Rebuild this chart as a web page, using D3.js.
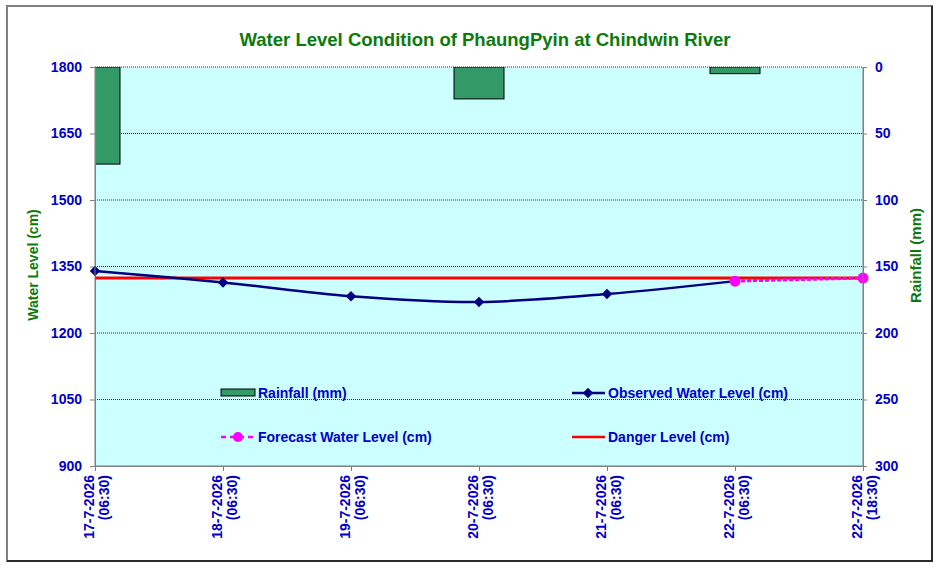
<!DOCTYPE html>
<html>
<head>
<meta charset="utf-8">
<script src="https://cdn.jsdelivr.net/npm/d3@7"></script>
<style>
  body { margin: 0; background: #fff; }
  text { font-family: "Liberation Sans", Arial, sans-serif; font-weight: bold; }
</style>
</head>
<body>
<svg id="chart" width="940" height="568"></svg>
<script>
const svg = d3.select("#chart");

// chart data
const dates = ["17-7-2026", "18-7-2026", "19-7-2026", "20-7-2026", "21-7-2026", "22-7-2026", "22-7-2026"];
const times = ["(06:30)", "(06:30)", "(06:30)", "(06:30)", "(06:30)", "(06:30)", "(18:30)"];
const rainfall = [73, 0, 0, 24, 0, 5, 0];
const observed = [1340, 1314, 1283, 1270, 1288, 1317, null];
const forecast = [null, null, null, null, null, 1317, 1324];
const danger = [1324, 1324, 1324, 1324, 1324, 1324, 1324];
const levelTicks = [900, 1050, 1200, 1350, 1500, 1650, 1800];
const rainTicks = [0, 50, 100, 150, 200, 250, 300];

const plot = { left: 95, right: 863, top: 67, bottom: 466 };
const blue = "#0000cc";
const green = "#0b7a0b";

const idx = d3.range(dates.length);
const x = d3.scalePoint().domain(idx).range([plot.left, plot.right]);
const yL = d3.scaleLinear().domain([900, 1800]).range([plot.bottom, plot.top]);
const yR = d3.scaleLinear().domain([0, 300]).range([plot.top, plot.bottom]);

// outer frame
svg.append("rect")
    .attr("x", 7).attr("y", 6).attr("width", 925).attr("height", 555)
    .attr("fill", "#fff").attr("stroke", "#808080").attr("stroke-width", 2);
svg.append("path")
    .attr("d", "M932,6V561H7")
    .attr("fill", "none").attr("stroke", "#111").attr("stroke-width", 1.5);

// plot background
svg.append("rect")
    .attr("x", plot.left).attr("y", plot.top)
    .attr("width", plot.right - plot.left).attr("height", plot.bottom - plot.top)
    .attr("fill", "#ccffff");

// dotted grid lines
svg.append("g")
    .selectAll("line")
    .data(levelTicks.filter(d => d > 900))
    .enter().append("line")
    .attr("x1", plot.left).attr("x2", plot.right)
    .attr("y1", d => yL(d)).attr("y2", d => yL(d))
    .attr("stroke", "#000").attr("stroke-width", 0.8)
    .attr("stroke-dasharray", "1,1");

// clip for the bars
svg.append("clipPath").attr("id", "clip")
    .append("rect")
    .attr("x", plot.left).attr("y", plot.top)
    .attr("width", plot.right - plot.left).attr("height", plot.bottom - plot.top);

const barW = 50;
svg.append("g").attr("clip-path", "url(#clip)")
    .selectAll("rect")
    .data(idx.filter(i => rainfall[i] > 0))
    .enter().append("rect")
    .attr("x", i => x(i) - barW / 2)
    .attr("y", yR(0))
    .attr("width", barW)
    .attr("height", i => yR(rainfall[i]) - yR(0))
    .attr("fill", "#339966").attr("stroke", "#000").attr("stroke-width", 1);

// axes
const styleAxis = g => {
    g.select(".domain").attr("stroke", "#808080");
    g.selectAll(".tick line").attr("stroke", "#808080");
    g.selectAll(".tick text").attr("fill", blue).attr("font-size", 14)
        .attr("font-family", "Liberation Sans, Arial, sans-serif").attr("font-weight", "bold");
};

svg.append("g")
    .attr("transform", `translate(${plot.left},0)`)
    .call(d3.axisLeft(yL).tickValues(levelTicks).tickFormat(d3.format("d"))
        .tickSize(5).tickPadding(8).tickSizeOuter(0))
    .call(styleAxis);

svg.append("g")
    .attr("transform", `translate(${plot.right},0)`)
    .call(d3.axisRight(yR).tickValues(rainTicks).tickFormat(d3.format("d"))
        .tickSize(4).tickPadding(8).tickSizeOuter(0))
    .call(styleAxis);

const xAxis = svg.append("g")
    .attr("transform", `translate(0,${plot.bottom})`)
    .call(d3.axisBottom(x).tickSize(5).tickSizeOuter(0).tickFormat(""))
    .call(styleAxis);

xAxis.selectAll(".tick").each(function(i) {
    const t = d3.select(this).append("text")
        .attr("transform", "rotate(-90)")
        .attr("text-anchor", "end")
        .attr("fill", blue).attr("font-size", 14);
    t.append("tspan").attr("x", -9).attr("y", -2).text(dates[i]);
    t.append("tspan").attr("x", -9).attr("y", 13).text(times[i]);
});

// danger level
const line = d3.line()
    .defined(d => d[1] != null)
    .x(d => x(d[0]))
    .y(d => yL(d[1]));

svg.append("path")
    .datum(idx.map(i => [i, danger[i]]))
    .attr("d", line)
    .attr("fill", "none").attr("stroke", "#ff0000").attr("stroke-width", 3);

// observed water level
svg.append("path")
    .datum(idx.filter(i => observed[i] != null).map(i => [i, observed[i]]))
    .attr("d", line.curve(d3.curveCatmullRom))
    .attr("fill", "none").attr("stroke", "#000080").attr("stroke-width", 2.5);

const diamond = d3.symbol().type(d3.symbolDiamond2).size(70);
svg.append("g")
    .selectAll("path")
    .data(idx.filter(i => observed[i] != null))
    .enter().append("path")
    .attr("d", diamond)
    .attr("transform", i => `translate(${x(i)},${yL(observed[i])})`)
    .attr("fill", "#000080");

// forecast water level
svg.append("path")
    .datum(idx.filter(i => forecast[i] != null).map(i => [i, forecast[i]]))
    .attr("d", line.curve(d3.curveLinear))
    .attr("fill", "none").attr("stroke", "#ff00ff").attr("stroke-width", 3)
    .attr("stroke-dasharray", "4,2");

svg.append("g")
    .selectAll("circle")
    .data(idx.filter(i => forecast[i] != null))
    .enter().append("circle")
    .attr("cx", i => x(i))
    .attr("cy", i => yL(forecast[i]))
    .attr("r", 5.5)
    .attr("fill", "#ff00ff");

// re-draw plot border on the bottom and sides
svg.append("path")
    .attr("d", `M${plot.left},${plot.top}V${plot.bottom}H${plot.right}V${plot.top}`)
    .attr("fill", "none").attr("stroke", "#808080").attr("stroke-width", 1);

// title
svg.append("text")
    .attr("x", 485).attr("y", 46)
    .attr("text-anchor", "middle")
    .attr("font-family", "DejaVu Sans, Verdana, sans-serif")
    .attr("font-size", 19)
    .attr("textLength", 491).attr("lengthAdjust", "spacingAndGlyphs")
    .attr("fill", green)
    .text("Water Level Condition of PhaungPyin at Chindwin River");

// axis titles
svg.append("text")
    .attr("transform", "translate(38,265) rotate(-90)")
    .attr("text-anchor", "middle")
    .attr("font-size", 14).attr("fill", green)
    .text("Water Level (cm)");

svg.append("text")
    .attr("transform", "translate(921,303) rotate(-90)")
    .attr("text-anchor", "start")
    .attr("font-size", 15).attr("fill", green)
    .text("Rainfall (mm)");

// legend
const legend = svg.append("g");
const lx1 = 221, lx2 = 572, ly1 = 393, ly2 = 437;

legend.append("rect")
    .attr("x", lx1).attr("y", ly1 - 4).attr("width", 34).attr("height", 7)
    .attr("fill", "#339966").attr("stroke", "#000");

legend.append("line")
    .attr("x1", lx2).attr("x2", lx2 + 33).attr("y1", ly1).attr("y2", ly1)
    .attr("stroke", "#000080").attr("stroke-width", 2.5);
legend.append("path")
    .attr("d", diamond)
    .attr("transform", `translate(${lx2 + 16},${ly1})`)
    .attr("fill", "#000080");

legend.append("line")
    .attr("x1", lx1).attr("x2", lx1 + 34).attr("y1", ly2).attr("y2", ly2)
    .attr("stroke", "#ff00ff").attr("stroke-width", 2.5)
    .attr("stroke-dasharray", "5,4");
legend.append("circle")
    .attr("cx", lx1 + 17).attr("cy", ly2).attr("r", 5)
    .attr("fill", "#ff00ff");

legend.append("line")
    .attr("x1", lx2).attr("x2", lx2 + 33).attr("y1", ly2).attr("y2", ly2)
    .attr("stroke", "#ff0000").attr("stroke-width", 2.5);

const legendItems = [
    { x: lx1 + 37, y: ly1, label: "Rainfall (mm)" },
    { x: lx2 + 36, y: ly1, label: "Observed Water Level (cm)" },
    { x: lx1 + 37, y: ly2, label: "Forecast Water Level (cm)" },
    { x: lx2 + 36, y: ly2, label: "Danger Level (cm)" }
];
legend.selectAll(".label")
    .data(legendItems)
    .enter().append("text")
    .attr("class", "label")
    .attr("x", d => d.x)
    .attr("y", d => d.y + 5)
    .attr("font-size", 14)
    .attr("fill", blue)
    .text(d => d.label);
</script>
</body>
</html>
